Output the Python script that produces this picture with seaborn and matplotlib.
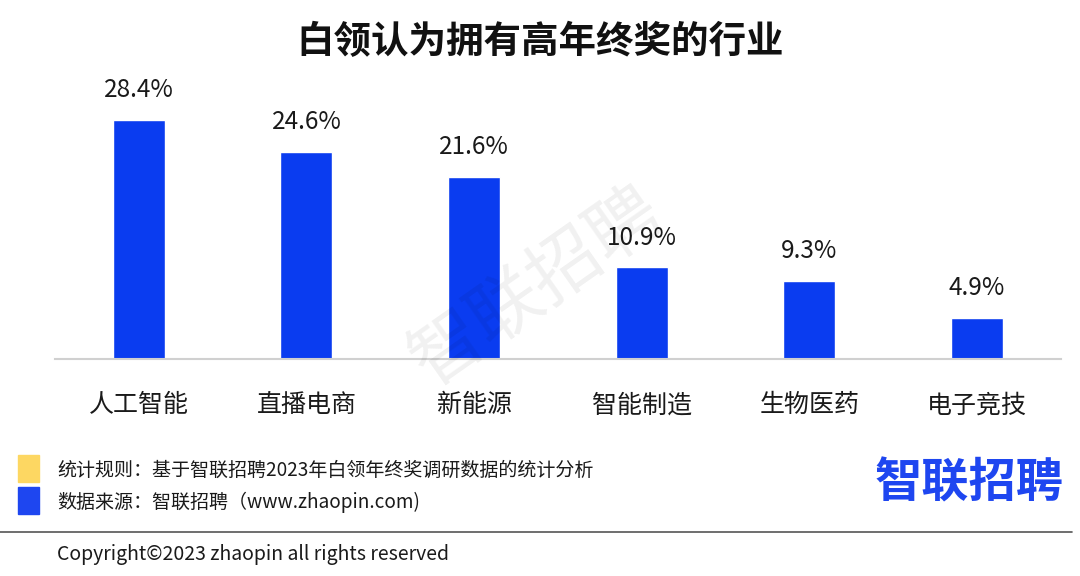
import matplotlib
matplotlib.use("Agg")
import matplotlib.pyplot as plt
import matplotlib.patches as mpatches
import seaborn as sns
import pandas as pd

# chart data
industries = ['人工智能', '直播电商', '新能源', '智能制造', '生物医药', '电子竞技']
shares = [28.4, 24.6, 21.6, 10.9, 9.3, 4.9]
value_labels = ['28.4%', '24.6%', '21.6%', '10.9%', '9.3%', '4.9%']

title = '白领认为拥有高年终奖的行业'
note_rule = '统计规则：基于智联招聘2023年白领年终奖调研数据的统计分析'
note_source = '数据来源：智联招聘（www.zhaopin.com)'
copyright_text = 'Copyright©2023 zhaopin all rights reserved'
logo_text = '智联招聘'

BAR_BLUE = '#0A3CF0'


def main():
    sns.set_theme(style='white')
    plt.rcParams['font.family'] = ['Noto Sans CJK SC', 'DejaVu Sans']

    df = pd.DataFrame({'industry': industries, 'share': shares})

    fig = plt.figure(figsize=(10.8, 5.76), dpi=100)
    ax = fig.add_axes([0.051, 0.3767, 0.931, 0.493])
    sns.barplot(data=df, x='industry', y='share', color=BAR_BLUE,
                width=0.31, saturation=1, ax=ax)

    ax.set_xlim(-0.5, len(industries) - 0.5)
    ax.set_ylim(0, 33.7)
    ax.set_xlabel('')
    ax.set_ylabel('')
    ax.set_yticks([])
    ax.tick_params(axis='x', length=0, labelsize=18, pad=24, colors='#1a1a1a')
    for side in ['left', 'right', 'top']:
        ax.spines[side].set_visible(False)
    ax.spines['bottom'].set_color('#d0d0d0')
    ax.spines['bottom'].set_linewidth(1.5)

    # value labels on top of bars
    ax.bar_label(ax.containers[0], labels=value_labels, padding=12,
                 fontsize=17.5, color='#1a1a1a')

    # title
    fig.text(0.5, 0.927, title, ha='center', va='center',
             fontsize=27, fontweight='bold', color='#111111')

    # watermark
    fig.text(0.497, 0.5, logo_text, ha='center', va='center', rotation=35,
             fontsize=52, color='#000000', alpha=0.06)

    # footnotes with colour squares
    fig.patches.append(mpatches.Rectangle((0.017, 0.163), 0.019, 0.047,
                                          transform=fig.transFigure,
                                          color='#FDD762', zorder=3))
    fig.patches.append(mpatches.Rectangle((0.017, 0.108), 0.019, 0.047,
                                          transform=fig.transFigure,
                                          color='#1E46F0', zorder=3))
    fig.text(0.053, 0.184, note_rule, ha='left', va='center',
             fontsize=13.7, color='#1a1a1a')
    fig.text(0.053, 0.127, note_source, ha='left', va='center',
             fontsize=13.7, color='#1a1a1a')

    # logo
    fig.text(0.985, 0.16, logo_text, ha='right', va='center',
             fontsize=34, fontweight='bold', color='#1E46F0')

    # separator line and copyright
    fig.add_artist(plt.Line2D([0.0, 0.993], [0.076, 0.076],
                              transform=fig.transFigure,
                              color='#555555', linewidth=1.2))
    fig.text(0.053, 0.038, copyright_text, ha='left', va='center',
             fontsize=14, color='#1a1a1a')

    fig.savefig('out.png', dpi=100, facecolor='white')


if __name__ == '__main__':
    main()
